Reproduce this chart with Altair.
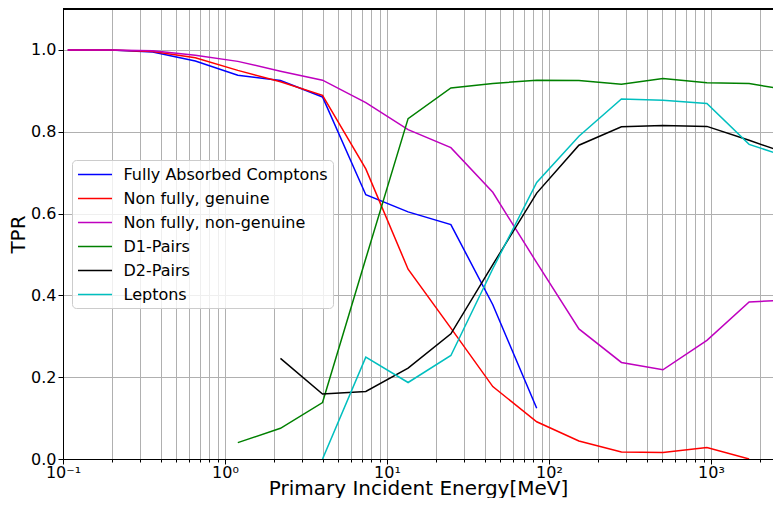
import altair as alt
import pandas as pd

# Primary incident energy [MeV] at which each curve is sampled
energy = [0.107, 0.196, 0.358, 0.656, 1.2, 2.2, 4.0, 7.4, 13.5, 24.8, 45, 84, 153, 280, 505, 944, 1720, 3150]

fully_absorbed = [1.0, 1.0, 0.995, 0.973, 0.938, 0.925, 0.885, 0.646, 0.604, 0.573, 0.377, 0.124,
                  None, None, None, None, None, None]
non_fully_genuine = [1.0, 1.0, 0.996, 0.981, 0.950, 0.922, 0.889, 0.709, 0.464, 0.320, 0.177, 0.091,
                     0.044, 0.017, 0.016, 0.028, 0.0, None]
non_fully_non_genuine = [1.0, 1.0, 0.998, 0.987, 0.972, 0.948, 0.926, 0.871, 0.805, 0.761, 0.652, 0.480,
                         0.318, 0.236, 0.218, 0.290, 0.384, 0.389]
d1_pairs = [None, None, None, None, 0.040, 0.075, 0.138, 0.490, 0.832, 0.907, 0.918, 0.926,
            0.925, 0.916, 0.930, 0.920, 0.918, 0.900]
d2_pairs = [None, None, None, None, None, 0.246, 0.159, 0.165, 0.222, 0.306, 0.475, 0.650,
            0.767, 0.812, 0.815, 0.813, 0.779, 0.743]
leptons = [None, None, None, None, None, None, 0.0, 0.249, 0.187, 0.253, 0.465, 0.676,
           0.789, 0.880, 0.877, 0.869, 0.769, 0.735]

series_names = ["Fully Absorbed Comptons", "Non fully, genuine", "Non fully, non-genuine",
                "D1-Pairs", "D2-Pairs", "Leptons"]
series_values = [fully_absorbed, non_fully_genuine, non_fully_non_genuine, d1_pairs, d2_pairs, leptons]
series_colors = ["#0000ff", "#ff0000", "#bf00bf", "#008000", "#000000", "#00bfbf"]

x_ticks = [0.1, 0.2, 0.3, 0.4, 0.5, 0.6, 0.7, 0.8, 0.9,
           1, 2, 3, 4, 5, 6, 7, 8, 9,
           10, 20, 30, 40, 50, 60, 70, 80, 90,
           100, 200, 300, 400, 500, 600, 700, 800, 900,
           1000, 2000]
y_ticks = [0.0, 0.2, 0.4, 0.6, 0.8, 1.0]

rows = []
for idx, (name, vals) in enumerate(zip(series_names, series_values)):
    for e, v in zip(energy, vals):
        if v is not None:
            rows.append({"energy": e, "tpr": v, "series": name, "k": idx})
df = pd.DataFrame(rows)

W, H = 710, 450
FONT = "DejaVu Sans"

is_pow = "abs(log(datum.value)/LN10 - round(log(datum.value)/LN10)) < 0.001"
label_expr = (f"({is_pow}) ? ('10' + ['\u207b\u00b9','\u2070','\u00b9','\u00b2','\u00b3']"
              f"[round(log(datum.value)/LN10) + 1]) : ''")

lines = alt.Chart(df).mark_line(strokeWidth=1.5, clip=True).encode(
    x=alt.X("energy:Q",
            scale=alt.Scale(type="log", domain=[0.1, 2415], nice=False),
            axis=alt.Axis(values=x_ticks, labelExpr=label_expr, labelOverlap=False, labelFlush=False,
                          tickSize={"condition": {"test": is_pow, "value": 5}, "value": 3},
                          title="Primary Incident Energy[MeV]", grid=True, labelPadding=0,
                          titleBaseline="alphabetic", titleY=35)),
    y=alt.Y("tpr:Q",
            scale=alt.Scale(domain=[0, 1.1], nice=False),
            axis=alt.Axis(values=y_ticks, format=".1f", title="TPR", tickSize=5, labelPadding=2,
                          titlePadding=2)),
    color=alt.Color("series:N",
                    scale=alt.Scale(domain=series_names, range=series_colors),
                    sort=series_names,
                    legend=alt.Legend(orient="none", legendX=9, legendY=151, title=None,
                                      symbolType="M-2,0H2", symbolSize=289, symbolStrokeWidth=1.5,
                                      symbolFillColor="transparent", symbolOffset=8.5,
                                      labelFontSize=16, labelFont=FONT, labelColor="black",
                                      labelOffset=19, labelLimit=0,
                                      fillColor="rgba(255,255,255,0.8)", strokeColor="#cccccc",
                                      cornerRadius=4, padding=5, rowPadding=6)),
    order=alt.Order("energy:Q"),
)

top_spine = alt.Chart(df).mark_rule(color="black", strokeWidth=1).encode(
    x=alt.value(0), x2=alt.value(W), y=alt.value(0)
)

chart = alt.layer(lines, top_spine).properties(
    width=W, height=H,
    autosize=alt.AutoSizeParams(type="none"),
    padding={"left": 55, "top": 1, "right": 0, "bottom": 39},
).configure_view(stroke=None).configure_axis(
    labelFont=FONT, titleFont=FONT, labelFontSize=16, titleFontSize=20,
    labelColor="black", titleColor="black", titleFontWeight="normal",
    domainColor="black", domainWidth=1, tickColor="black", tickWidth=1,
    gridColor="#b0b0b0", gridWidth=1,
)

chart.save("out.html", embed_options={"renderer": "svg", "actions": False})
